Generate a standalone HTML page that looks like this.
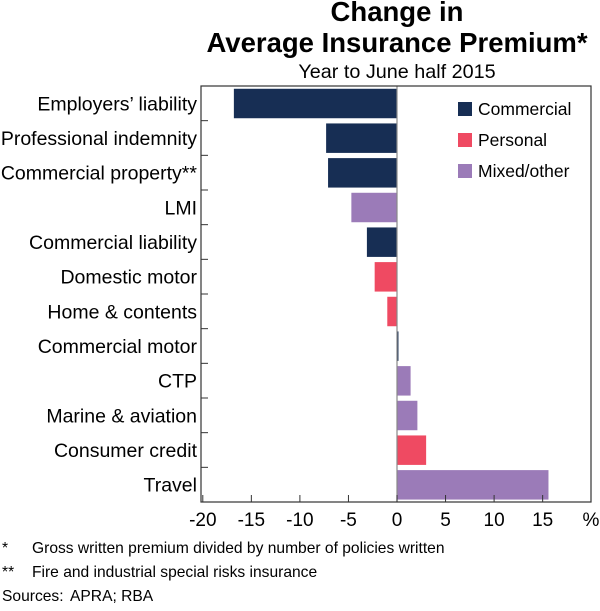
<!DOCTYPE html>
<html><head><meta charset="utf-8"><style>
body{margin:0;background:#fff;font-family:"Liberation Sans",Arial,sans-serif;}
svg text{font-family:"Liberation Sans",Arial,sans-serif;fill:#000;}
</style></head><body>
<svg width="600" height="606" viewBox="0 0 600 606" xmlns="http://www.w3.org/2000/svg">
<text x="397" y="21" text-anchor="middle" font-size="27.5" font-weight="bold">Change in</text>
<text x="397" y="52" text-anchor="middle" font-size="27.5" font-weight="bold">Average Insurance Premium*</text>
<text x="397" y="78" text-anchor="middle" font-size="19.8">Year to June half 2015</text>
<g id="plot"></g>
<g>
<g><rect x="458" y="102" width="14" height="14" fill="#172e54"/><text x="478" y="115" font-size="17.5">Commercial</text></g>
<g><rect x="458" y="133" width="14" height="14" fill="#ef4a62"/><text x="478" y="146" font-size="17.5">Personal</text></g>
<g><rect x="458" y="164" width="14" height="14" fill="#9b7bb8"/><text x="478" y="177" font-size="17.5">Mixed/other</text></g>
</g>
<text x="2" y="553" font-size="15.6">*</text>
<text x="32" y="553" font-size="15.6">Gross written premium divided by number of policies written</text>
<text x="2" y="577" font-size="15.6">**</text>
<text x="32" y="577" font-size="15.6">Fire and industrial special risks insurance</text>
<text x="2" y="601" font-size="15.6">Sources:</text>
<text x="70" y="601" font-size="15.6">APRA; RBA</text>
</svg>
<script>
const categories=["Employers’ liability","Professional indemnity","Commercial property**","LMI","Commercial liability","Domestic motor","Home & contents","Commercial motor","CTP","Marine & aviation","Consumer credit","Travel"];
const values=[-16.8,-7.3,-7.1,-4.7,-3.1,-2.3,-1.0,0.15,1.4,2.1,3.0,15.6];
const groups=["c","c","c","m","c","p","p","c","m","m","p","m"];
const xTicks=[-20,-15,-10,-5,0,5,10,15];
const colors={c:"#172e54",p:"#ef4a62",m:"#9b7bb8"};
const L=201,R=591,T=86,B=502;
const x=v=>397+v*9.71;
const rowH=(B-T)/categories.length;
const y=i=>T+i*rowH;
const ns="http://www.w3.org/2000/svg";
const g=document.getElementById('plot');
function mk(tag,attrs){const e=document.createElementNS(ns,tag);for(const k in attrs)e.setAttribute(k,attrs[k]);g.appendChild(e);return e;}
values.forEach((v,i)=>{
 const r=mk('rect',{x:Math.min(x(0),x(v)),y:y(i)+rowH*0.08,width:Math.abs(x(v)-x(0)),height:rowH*0.85,fill:colors[groups[i]]});
 
 
 const t=mk('text',{x:197,y:y(i)+rowH/2+7,'text-anchor':'end','font-size':'19.5'});
 t.textContent=categories[i];
 
 
 if(i>0){const tk=mk('line',{x1:L,x2:L+7,y1:y(i),y2:y(i),stroke:'#333','stroke-width':1});
 
 }
});
const z=mk('line',{x1:x(0),x2:x(0),y1:T,y2:B,stroke:'#888','stroke-width':1.2});


xTicks.forEach(v=>{
 const tk=mk('line',{x1:x(v),x2:x(v),y1:B,y2:B-7,stroke:'#333','stroke-width':1});
 
 
 const t=mk('text',{x:x(v),y:B+24,'text-anchor':'middle','font-size':'19'});
 t.textContent=v;
 
 
});
const u=mk('text',{x:591,y:B+24,'text-anchor':'middle','font-size':'19'});
u.textContent='%';


const f=mk('rect',{x:L,y:T,width:R-L,height:B-T,fill:'none',stroke:'#333','stroke-width':1.2});


</script>
</body></html>
